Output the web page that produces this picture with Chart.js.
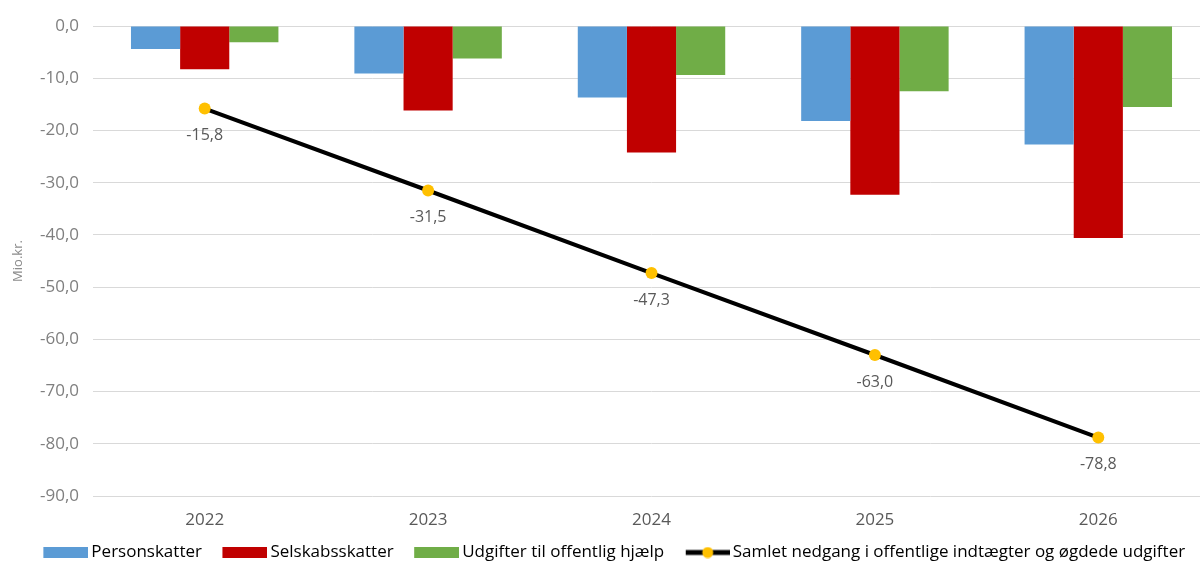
<!DOCTYPE html>
<html lang="da">
<head>
<meta charset="utf-8">
<script src="https://cdn.jsdelivr.net/npm/chart.js@4/dist/chart.umd.min.js"></script>
<style>
  html, body { margin: 0; padding: 0; background: #fff; overflow: hidden; }
  #wrap { width: 1216px; height: 565px; }
</style>
</head>
<body>
<div id="wrap"><canvas id="nedgang"></canvas></div>
<script>
// År og serier (mio. kr.)
var years = ['2022', '2023', '2024', '2025', '2026'];
var personskatter = [-4.4, -9.1, -13.7, -18.2, -22.7];
var selskabsskatter = [-8.3, -16.2, -24.2, -32.3, -40.6];
var offentligHjaelp = [-3.1, -6.2, -9.4, -12.5, -15.5];
var samlet = [-15.8, -31.5, -47.3, -63.0, -78.8];

var seriesNames = [
  'Personskatter',
  'Selskabsskatter',
  'Udgifter til offentlig hjælp',
  'Samlet nedgang i offentlige indtægter og øgdede udgifter'
];

var FONT = '"Open Sans", sans-serif';

function fmt(v) {
  var s = Math.abs(v).toFixed(1).replace('.', ',');
  return (v < 0 && Math.abs(v) > 0.0001) ? '-' + s : s;
}

// legend swatches: the image is wider than the legend box, with blank space
// on the left (gap to the previous item) and the mark flush right (close to the text)
var BOX = 54;
var SW = BOX + 11;
function swatch(color) {
  var c = document.createElement('canvas');
  c.width = SW; c.height = 11;
  var g = c.getContext('2d');
  g.fillStyle = color;
  g.fillRect(SW - 45, 0, 45, 11);
  return c;
}
function lineSwatch() {
  var c = document.createElement('canvas');
  c.width = SW; c.height = 12;
  var g = c.getContext('2d');
  g.strokeStyle = '#000';
  g.lineWidth = 5;
  g.beginPath(); g.moveTo(SW - 44, 6); g.lineTo(SW, 6); g.stroke();
  g.fillStyle = '#ffc000';
  g.beginPath(); g.arc(SW - 22, 6, 5.5, 0, Math.PI * 2); g.fill();
  return c;
}
var swatches = [swatch('#5b9bd5'), swatch('#c00000'), swatch('#70ad47'), lineSwatch()];

// value labels under the total line
var lineLabels = {
  id: 'lineLabels',
  afterDatasetsDraw: function(chart) {
    var meta = chart.getDatasetMeta(3);
    var ctx = chart.ctx;
    ctx.save();
    ctx.font = '16px ' + FONT;
    ctx.fillStyle = '#595959';
    ctx.textAlign = 'center';
    ctx.textBaseline = 'middle';
    meta.data.forEach(function(pt, i) {
      ctx.fillText(fmt(samlet[i]), pt.x, pt.y + 27);
    });
    ctx.restore();
  }
};

// nudge the legend row
var legendShift = {
  id: 'legendShift',
  afterLayout: function(chart) {
    chart.legend.left -= 1;
    chart.legend.right -= 1;
    chart.legend.top += 6;
    chart.legend.bottom += 6;
  }
};

var ctx = document.getElementById('nedgang').getContext('2d');
var chart = new Chart(ctx, {
  type: 'bar',
  data: {
    labels: years,
    datasets: [{
      label: seriesNames[0],
      data: personskatter,
      backgroundColor: '#5b9bd5',
      categoryPercentage: 0.66,
      barPercentage: 1
    }, {
      label: seriesNames[1],
      data: selskabsskatter,
      backgroundColor: '#c00000',
      categoryPercentage: 0.66,
      barPercentage: 1
    }, {
      label: seriesNames[2],
      data: offentligHjaelp,
      backgroundColor: '#70ad47',
      categoryPercentage: 0.66,
      barPercentage: 1
    }, {
      type: 'line',
      label: seriesNames[3],
      data: samlet,
      borderColor: '#000000',
      borderWidth: 4,
      backgroundColor: '#ffc000',
      pointBackgroundColor: '#ffc000',
      pointBorderWidth: 0,
      pointRadius: 6,
      tension: 0
    }]
  },
  options: {
    responsive: true,
    maintainAspectRatio: false,
    animation: false,
    layout: { padding: { top: 26, right: 0, left: 0, bottom: 0 } },
    plugins: {
      tooltip: { enabled: false },
      legend: {
        position: 'bottom',
        labels: {
          color: '#595959',
          font: { family: FONT, size: 17 },
          usePointStyle: true,
          pointStyleWidth: BOX,
          boxHeight: 11,
          padding: 6,
          generateLabels: function(chart) {
            return seriesNames.map(function(name, i) {
              return {
                text: name,
                pointStyle: swatches[i],
                fillStyle: 'transparent',
                strokeStyle: 'transparent',
                lineWidth: 0,
                datasetIndex: i
              };
            });
          }
        }
      }
    },
    scales: {
      x: {
        grid: { display: false },
        border: { display: false },
        ticks: { color: '#595959', font: { family: FONT, size: 17 }, padding: 6 },
        afterFit: function(scale) { scale.height = 36; }
      },
      y: {
        min: -90,
        max: 0,
        ticks: {
          stepSize: 10,
          color: '#7f7f7f',
          font: { family: FONT, size: 17 },
          padding: 14,
          callback: function(v) { return fmt(v); }
        },
        grid: { color: '#d9d9d9', lineWidth: 1, drawTicks: false, tickLength: 0 },
        border: { display: false },
        title: {
          display: true,
          text: 'Mio.kr.',
          color: '#8c8c8c',
          font: { family: FONT, size: 13 },
          padding: { top: 10, bottom: 4 }
        },
        afterFit: function(scale) { scale.width = 93; }
      }
    }
  },
  plugins: [lineLabels, legendShift]
});
</script>
</body>
</html>
